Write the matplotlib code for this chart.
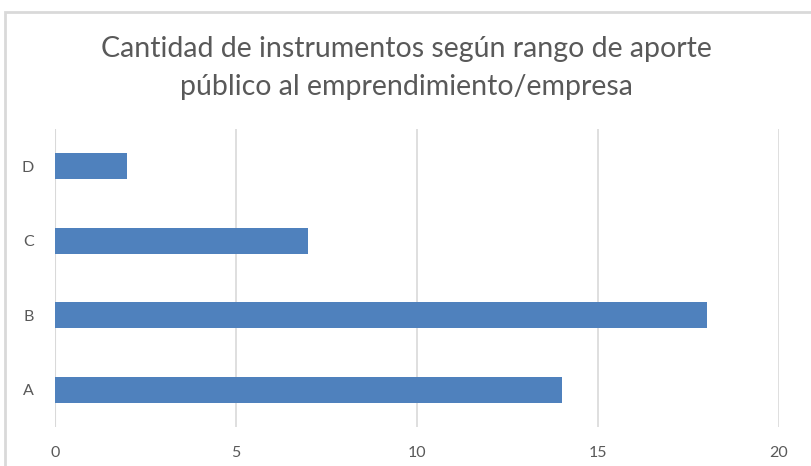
import numpy as np
import matplotlib.pyplot as plt
from matplotlib.patches import Rectangle

categorias = ['A', 'B', 'C', 'D']
cantidad = [14, 18, 7, 2]
ticks_x = [0, 5, 10, 15, 20]

plt.rcParams['font.family'] = ['Lato', 'DejaVu Sans']

W, H = 812, 466
fig = plt.figure(figsize=(W / 100, H / 100), dpi=100)
fig.patch.set_facecolor('white')

# marco del gráfico (recortado a la derecha y abajo)
fig.patches.append(Rectangle((5 / W, -0.05), 1.1, 1 - 12 / H + 0.05,
                             transform=fig.transFigure, fill=False,
                             edgecolor='#d9d9d9', lw=2, zorder=0))

ax = fig.add_axes([55 / W, 1 - 427 / H, (779 - 55) / W, (427 - 129) / H])
y = np.arange(len(categorias))
ax.barh(y, cantidad, height=0.35, color='#4f81bd', zorder=3)

ax.set_xlim(0, 20)
ax.set_ylim(-0.5, 3.5)
ax.set_xticks(ticks_x)
ax.set_yticks(y)
ax.set_yticklabels(categorias)
ax.grid(axis='x', color='#d9d9d9', lw=1.2, zorder=0)
for s in ax.spines.values():
    s.set_visible(False)
ax.axvline(0, color='#d9d9d9', lw=1.5, zorder=2)
ax.tick_params(length=0, labelsize=11.5, colors='#595959')
ax.tick_params(axis='x', pad=14)
ax.tick_params(axis='y', pad=15)

fig.text(0.5, 1 - 49 / H, 'Cantidad de instrumentos según rango de aporte',
         ha='center', va='center', fontsize=20.5, color='#595959')
fig.text(0.5, 1 - 87 / H, 'público al emprendimiento/empresa',
         ha='center', va='center', fontsize=20.5, color='#595959')

fig.savefig('out.png', dpi=100)
